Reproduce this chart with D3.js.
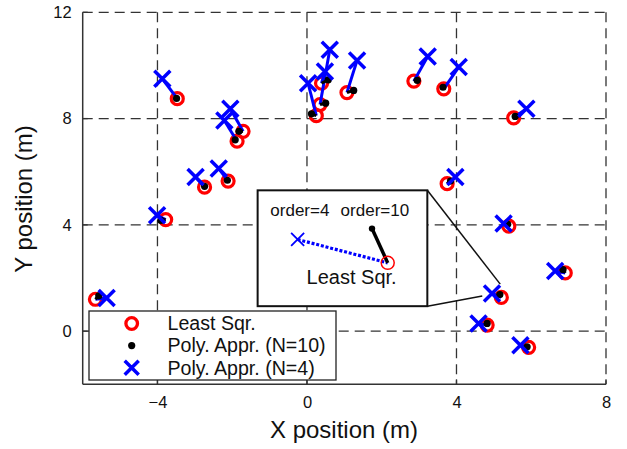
<!DOCTYPE html>
<html><head><meta charset="utf-8">
<script src="https://cdn.jsdelivr.net/npm/d3@7"></script>
<style>body{margin:0;background:#fff}svg{display:block;font-family:"Liberation Sans",Arial,sans-serif}</style>
</head><body>
<script>
// Least squares estimates
const lsX  = [-5.66,-3.78,-3.47,-1.71,-1.87,-2.74,-2.11,0.25,0.35,0.39,1.07,2.86,3.66,5.53,3.75,5.40,6.91,5.20,4.82,5.93];
const lsY  = [1.20,4.20,8.75,7.52,7.15,5.42,5.65,8.11,8.53,9.33,8.98,9.41,9.12,8.03,5.55,3.95,2.19,1.27,0.23,-0.61];
// Polynomial approximation N=10
const n10X = [-5.57,-3.91,-3.49,-1.82,-1.92,-2.74,-2.13,0.12,0.50,0.57,1.25,2.95,3.64,5.57,3.84,5.37,6.85,5.16,4.82,5.89];
const n10Y = [1.33,4.17,8.76,7.52,7.20,5.45,5.68,8.18,8.58,9.46,9.06,9.44,9.18,8.08,5.65,4.02,2.32,1.38,0.29,-0.59];
// Polynomial approximation N=4
const n4X  = [-5.36,-4.01,-3.87,-2.05,-2.21,-2.98,-2.36,0.03,0.61,0.48,1.34,3.23,4.06,5.87,3.97,5.26,6.64,4.95,4.59,5.71];
const n4Y  = [1.25,4.36,9.50,8.37,7.93,5.80,6.12,9.33,10.59,9.77,10.19,10.34,9.94,8.37,5.80,4.05,2.26,1.42,0.29,-0.53];

const xTicks = [-4,0,4,8];
const yTicks = [0,4,8,12];
const legendLabels = ["Least Sqr.","Poly. Appr. (N=10)","Poly. Appr. (N=4)"];

// Inset (zoom-in illustration), in data units
const insetBox = {x0:-1.32, x1:3.22, y0:0.94, y1:5.30};
const insetPts = {n4:[-0.25,3.45], ls:[2.16,2.57], n10:[1.74,3.86]};
const insetWedge = [[[3.22,5.30],[5.17,1.77]],[[3.22,0.94],[4.69,1.32]]];
const insetTexts = [["order=4",-0.98,4.32,17],["order=10",0.90,4.32,17],["Least Sqr.",-0.01,1.77,20]];

const W=627,H=449;
const m={l:82.7,r:606,t:12.3,b:384.3};
const x=d3.scaleLinear().domain([-6,8]).range([m.l,m.r]);
const y=d3.scaleLinear().domain([-2,12]).range([m.b,m.t]);

const svg=d3.select("body").append("svg").attr("width",W).attr("height",H);
svg.append("rect").attr("width",W).attr("height",H).attr("fill","#fff");

// grid
const g=svg.append("g");
g.selectAll(".gx").data(xTicks).join("line")
  .attr("x1",d=>x(d)).attr("x2",d=>x(d)).attr("y1",m.t).attr("y2",m.b)
  .attr("stroke","#333").attr("stroke-width",1.3).attr("stroke-dasharray","10,6");
g.selectAll(".gy").data(yTicks).join("line")
  .attr("y1",d=>y(d)).attr("y2",d=>y(d)).attr("x1",m.l).attr("x2",m.r)
  .attr("stroke","#333").attr("stroke-width",1.3).attr("stroke-dasharray","10,6");

// axes
const xAxis=d3.axisBottom(x).tickValues(xTicks).tickSize(0).tickPadding(12);
const yAxis=d3.axisLeft(y).tickValues(yTicks).tickSize(0).tickPadding(11);
const ax=svg.append("g").attr("transform",`translate(0,${m.b})`).call(xAxis);
const ay=svg.append("g").attr("transform",`translate(${m.l},0)`).call(yAxis);
[ax,ay].forEach(a=>{a.select(".domain").remove();a.selectAll("text").attr("font-size",16.5).attr("fill","#111").attr("font-family","Liberation Sans, Arial, sans-serif");});
svg.append("line").attr("x1",m.l).attr("x2",m.r).attr("y1",m.b).attr("y2",m.b).attr("stroke","#333").attr("stroke-width",1.5);
svg.append("line").attr("x1",m.l).attr("x2",m.l).attr("y1",m.t).attr("y2",m.b).attr("stroke","#333").attr("stroke-width",1.5);
// inward ticks
svg.selectAll(".tx").data(xTicks).join("line").attr("x1",d=>x(d)).attr("x2",d=>x(d)).attr("y1",m.b).attr("y2",m.b-5).attr("stroke","#333").attr("stroke-width",1.3);
svg.selectAll(".ty").data(yTicks).join("line").attr("y1",d=>y(d)).attr("y2",d=>y(d)).attr("x1",m.l).attr("x2",m.l+5).attr("stroke","#333").attr("stroke-width",1.3);

// labels
svg.append("text").attr("x",344).attr("y",438).attr("text-anchor","middle").attr("font-size",24).attr("fill","#111").text("X position (m)");
svg.append("text").attr("transform","translate(32,199) rotate(-90)").attr("text-anchor","middle").attr("font-size",24).attr("fill","#111").text("Y position (m)");

// data
const idx=d3.range(lsX.length);
const pl=svg.append("g");
pl.selectAll(".c").data(idx).join("circle").attr("cx",i=>x(lsX[i])).attr("cy",i=>y(lsY[i])).attr("r",6)
  .attr("fill","none").attr("stroke","#f00").attr("stroke-width",3.2);
pl.selectAll(".bl").data(idx).join("line").attr("x1",i=>x(n4X[i])).attr("y1",i=>y(n4Y[i])).attr("x2",i=>x(lsX[i])).attr("y2",i=>y(lsY[i]))
  .attr("stroke","#00f").attr("stroke-width",3);
pl.selectAll(".kl").data(idx).join("line").attr("x1",i=>x(n10X[i])).attr("y1",i=>y(n10Y[i])).attr("x2",i=>x(lsX[i])).attr("y2",i=>y(lsY[i]))
  .attr("stroke","#000").attr("stroke-width",3);
pl.selectAll(".d").data(idx).join("circle").attr("cx",i=>x(n10X[i])).attr("cy",i=>y(n10Y[i])).attr("r",3.6).attr("fill","#000");
const xs=8;
pl.selectAll(".x").data(idx).join("path")
  .attr("d",i=>{const cx=x(n4X[i]),cy=y(n4Y[i]);return `M${cx-xs},${cy-xs}L${cx+xs},${cy+xs}M${cx-xs},${cy+xs}L${cx+xs},${cy-xs}`;})
  .attr("stroke","#00f").attr("stroke-width",3.5).attr("fill","none");

// inset
const ins=svg.append("g");
insetWedge.forEach(s=>ins.append("line").attr("x1",x(s[0][0])).attr("y1",y(s[0][1])).attr("x2",x(s[1][0])).attr("y2",y(s[1][1])).attr("stroke","#111").attr("stroke-width",1.5));
ins.append("rect").attr("x",x(insetBox.x0)).attr("y",y(insetBox.y1)).attr("width",x(insetBox.x1)-x(insetBox.x0)).attr("height",y(insetBox.y0)-y(insetBox.y1))
  .attr("fill","#fff").attr("stroke","#111").attr("stroke-width",2);
insetTexts.forEach(t=>ins.append("text").attr("x",x(t[1])).attr("y",y(t[2])).attr("font-size",t[3]).attr("fill","#111").text(t[0]));
ins.append("line").attr("x1",x(insetPts.n4[0])).attr("y1",y(insetPts.n4[1])).attr("x2",x(insetPts.ls[0])).attr("y2",y(insetPts.ls[1]))
  .attr("stroke","#00f").attr("stroke-width",3.2).attr("stroke-dasharray","3,1.8");
ins.append("line").attr("x1",x(insetPts.n10[0])).attr("y1",y(insetPts.n10[1])).attr("x2",x(insetPts.ls[0])).attr("y2",y(insetPts.ls[1]))
  .attr("stroke","#000").attr("stroke-width",3.5);
ins.append("circle").attr("cx",x(insetPts.n10[0])).attr("cy",y(insetPts.n10[1])).attr("r",3.2).attr("fill","#000");
ins.append("circle").attr("cx",x(insetPts.ls[0])).attr("cy",y(insetPts.ls[1])).attr("r",6.5).attr("fill","none").attr("stroke","#f00").attr("stroke-width",1.5);
{const cx=x(insetPts.n4[0]),cy=y(insetPts.n4[1]),s=6.5;
 ins.append("path").attr("d",`M${cx-s},${cy-s}L${cx+s},${cy+s}M${cx-s},${cy+s}L${cx+s},${cy-s}`).attr("stroke","#00f").attr("stroke-width",1.8);}

// legend
const lg=svg.append("g");
lg.append("rect").attr("x",89).attr("y",311).attr("width",247).attr("height",69).attr("fill","#fff").attr("stroke","#222").attr("stroke-width",1.3);
const rowY=d3.scaleLinear().domain([0,2]).range([323.5,367.7]);
lg.append("circle").attr("cx",131.7).attr("cy",rowY(0)).attr("r",5.8).attr("fill","none").attr("stroke","#f00").attr("stroke-width",3.3);
lg.append("circle").attr("cx",131.7).attr("cy",rowY(1)).attr("r",3.6).attr("fill","#000");
{const cx=131.7,cy=rowY(2),s=7;lg.append("path").attr("d",`M${cx-s},${cy-s}L${cx+s},${cy+s}M${cx-s},${cy+s}L${cx+s},${cy-s}`).attr("stroke","#00f").attr("stroke-width",3.5);}
lg.selectAll(".lt").data(legendLabels).join("text").attr("x",167.5).attr("y",(d,i)=>rowY(i)+6.8).attr("font-size",19.6).attr("fill","#111").text(d=>d);
</script>
</body></html>
